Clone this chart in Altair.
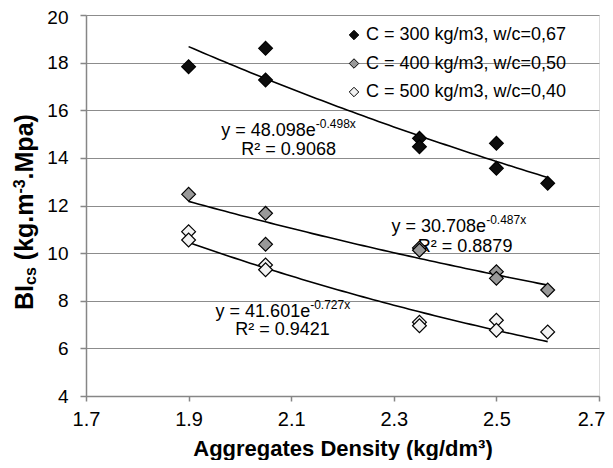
import altair as alt
import pandas as pd
import numpy as np

# ---------------- data ----------------
density_300 = [1.9, 2.05, 2.05, 2.35, 2.35, 2.5, 2.5, 2.6]
bi_300 = [17.83, 18.6, 17.27, 14.82, 14.47, 14.61, 13.56, 12.93]
density_400 = [1.9, 2.05, 2.05, 2.35, 2.35, 2.5, 2.5, 2.6]
bi_400 = [12.47, 11.67, 10.37, 10.22, 10.12, 9.22, 8.94, 8.45]
density_500 = [1.9, 1.9, 2.05, 2.05, 2.35, 2.35, 2.5, 2.5, 2.6]
bi_500 = [10.9, 10.55, 9.5, 9.3, 7.1, 6.95, 7.18, 6.76, 6.69]

series_labels = ["C = 300 kg/m3, w/c=0,67",
                 "C = 400 kg/m3, w/c=0,50",
                 "C = 500 kg/m3, w/c=0,40"]
series_fills = ["#0d0d0d", "#999999", "#f2f2f2"]

# exponential trendlines y = a * exp(b x) as printed on the chart
fit_a = [48.098, 30.708, 41.601]
fit_b = [-0.498, -0.487, -0.727]
fit_a_text = ["48.098", "30.708", "41.601"]
fit_b_text = ["-0.498x", "-0.487x", "-0.727x"]
fit_r2_text = ["0.9068", "0.8879", "0.9421"]
fit_start = 1.9
fit_end = 2.6

x_ticks = [1.7, 1.9, 2.1, 2.3, 2.5, 2.7]
y_ticks = [4, 6, 8, 10, 12, 14, 16, 18, 20]

# annotation anchors (data coordinates)
eq_x = [2.148, 2.48, 2.137]
eq_y = [14.92, 10.89, 7.32]
r2_x = [2.095, 2.439, 2.083]
r2_y = [14.12, 10.05, 6.56]

FONT = "Liberation Sans"

# ---------------- tables ----------------
points = pd.concat([
    pd.DataFrame({"density": density_300, "bi": bi_300, "series": series_labels[0]}),
    pd.DataFrame({"density": density_400, "bi": bi_400, "series": series_labels[1]}),
    pd.DataFrame({"density": density_500, "bi": bi_500, "series": series_labels[2]}),
], ignore_index=True)

xs = np.linspace(fit_start, fit_end, 71)
trend = pd.concat([
    pd.DataFrame({"density": xs, "bi": a * np.exp(b * xs), "series": lab})
    for a, b, lab in zip(fit_a, fit_b, series_labels)
], ignore_index=True)

eq_main = pd.DataFrame({"x": eq_x, "y": eq_y, "t": [f"y = {a}e" for a in fit_a_text]})
eq_sup = pd.DataFrame({"x": eq_x, "y": eq_y, "t": fit_b_text})
eq_r2 = pd.DataFrame({"x": r2_x, "y": r2_y, "t": [f"R² = {r}" for r in fit_r2_text]})

xscale = alt.Scale(domain=[1.7, 2.7], nice=False, zero=False)
yscale = alt.Scale(domain=[4, 20], nice=False, zero=False)

x_axis = alt.Axis(values=x_ticks, format=".1f", title="Aggregates Density (kg/dm³)",
                  titleFontSize=22, titleFont=FONT, titleFontWeight="bold", titleColor="black",
                  titlePadding=9, labelFontSize=20, labelFont=FONT, labelColor="black",
                  labelPadding=8, tickSize=5, tickColor="#868686", domainColor="#868686",
                  domainWidth=1.5, tickWidth=1.5, grid=False, labelFlush=False,
                  labelAlign=alt.condition("datum.value > 2.69", alt.value("right"), alt.value("center")),
                  labelOffset=alt.condition("datum.value > 2.69", alt.value(6), alt.value(0)))
y_axis = alt.Axis(values=y_ticks, title=None, labelFontSize=19, labelFont=FONT,
                  labelColor="black", labelPadding=12, tickSize=6, tickColor="#868686",
                  domainColor="#868686", domainWidth=1.5, tickWidth=1.5,
                  grid=True, gridColor="#8c8c8c", gridWidth=1.2, labelFlush=False,
                  labelOffset=alt.condition("datum.value > 19.5", alt.value(2), alt.value(0)))

X = alt.X("density:Q", scale=xscale, axis=x_axis)
Y = alt.Y("bi:Q", scale=yscale, axis=y_axis)

lines = alt.Chart(trend).mark_line(color="black", strokeWidth=1.6).encode(
    x=X, y=Y, detail="series:N")

pts = alt.Chart(points).mark_point(shape="diamond", filled=True, size=190,
                                   stroke="black", strokeWidth=1.2, opacity=1).encode(
    x=alt.X("density:Q", scale=xscale),
    y=alt.Y("bi:Q", scale=yscale),
    fill=alt.Fill("series:N", scale=alt.Scale(domain=series_labels, range=series_fills),
                  legend=alt.Legend(orient="none", legendX=259, legendY=11, title=None,
                                    symbolType="diamond", symbolSize=90,
                                    symbolStrokeColor="black", symbolStrokeWidth=1,
                                    labelFontSize=18, labelFont=FONT, labelColor="black",
                                    rowPadding=10.5, labelOffset=3, padding=0,
                                    labelLimit=400)),
)

main_txt = alt.Chart(eq_main).mark_text(align="right", baseline="alphabetic",
                                        fontSize=18, font=FONT, color="black").encode(
    x=alt.X("x:Q", scale=xscale), y=alt.Y("y:Q", scale=yscale), text="t:N")
sup_txt = alt.Chart(eq_sup).mark_text(align="left", baseline="alphabetic", dy=-8,
                                      fontSize=12, font=FONT, color="black").encode(
    x=alt.X("x:Q", scale=xscale), y=alt.Y("y:Q", scale=yscale), text="t:N")
r2_txt = alt.Chart(eq_r2).mark_text(align="center", baseline="alphabetic",
                                    fontSize=18, font=FONT, color="black").encode(
    x=alt.X("x:Q", scale=xscale), y=alt.Y("y:Q", scale=yscale), text="t:N")

# rotated y-axis title with subscript / superscript pieces
one = pd.DataFrame({"k": [0]})
def piece(text, px, py, size):
    return alt.Chart(one).mark_text(text=text, angle=270, align="left", baseline="alphabetic",
                                    fontSize=size, fontWeight="bold", font=FONT,
                                    color="black").encode(x=alt.value(px), y=alt.value(py))

ytitle = [
    piece("BI", -53, 295, 25),
    piece("cs", -50, 270, 16),
    piece("(kg.m", -53, 245.2, 25),
    piece("-3", -61, 178.6, 16),
    piece(".Mpa)", -53, 164.4, 25),
]

chart = alt.layer(main_txt, sup_txt, r2_txt, lines, pts, *ytitle).properties(
    width=513, height=381,
    autosize=alt.AutoSizeParams(type="none"),
    padding={"left": 78, "top": 7, "right": 6, "bottom": 64},
).configure_view(stroke="black", strokeWidth=1.2).configure(background="white")

chart.save("out.html", embed_options={"renderer": "svg", "actions": False})
